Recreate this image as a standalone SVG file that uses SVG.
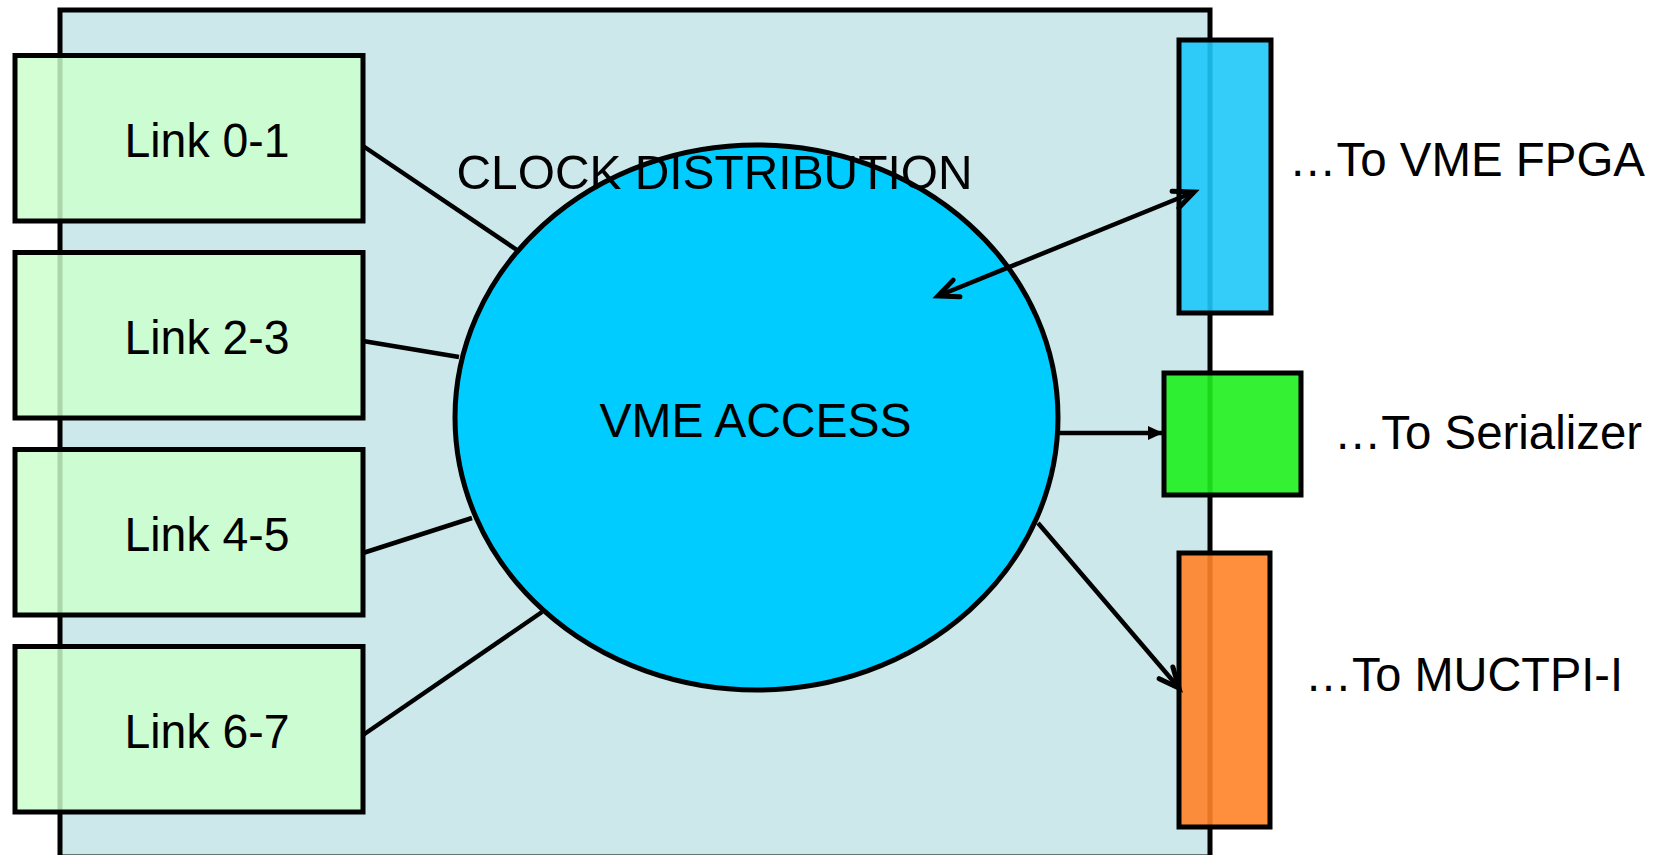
<svg xmlns="http://www.w3.org/2000/svg" width="1661" height="855" viewBox="0 0 1661 855">
  <defs>
    <marker id="openArrow" markerUnits="userSpaceOnUse" markerWidth="40" markerHeight="40" viewBox="-30 -20 40 40" refX="0" refY="0" orient="auto-start-reverse">
      <path d="M -20 -9 L 0 0 L -20 9" fill="none" stroke="#000" stroke-width="5" stroke-linecap="round" stroke-linejoin="miter"/>
    </marker>
    <marker id="solidArrow" markerUnits="userSpaceOnUse" markerWidth="30" markerHeight="30" viewBox="-20 -15 30 30" refX="0" refY="0" orient="auto">
      <path d="M -14 -7 L 1 0 L -14 7 Z" fill="#000"/>
    </marker>
  </defs>
  <style>
    .txt { font-family: "Liberation Sans", Arial, sans-serif; fill: #000; }
    .link rect { fill: #ccffcc; fill-opacity: 0.84; stroke: #000; stroke-width: 5; }
    .conn { stroke: #000; stroke-width: 4.5; fill: none; }
    .port { stroke: #000; stroke-width: 5; fill-opacity: 0.9; }
  </style>

  <rect width="1661" height="855" fill="#ffffff"/>

  <g id="board">
    <rect x="60" y="10" width="1150" height="847" fill="#cce8ea" stroke="#000" stroke-width="5"/>
  </g>

  <g id="connectors">
    <line class="conn" x1="363" y1="146" x2="517" y2="250"/>
    <line class="conn" x1="363" y1="341" x2="459" y2="357"/>
    <line class="conn" x1="363" y1="553" x2="472" y2="518"/>
    <line class="conn" x1="363" y1="735" x2="542" y2="612"/>
  </g>

  <g id="vme_access">
    <ellipse cx="756.5" cy="417.5" rx="301.5" ry="272.5" fill="#00ccff" stroke="#000" stroke-width="5"/>
    <text class="txt" x="755.5" y="437" font-size="48" text-anchor="middle" textLength="312" lengthAdjust="spacingAndGlyphs">VME ACCESS</text>
  </g>

  <g id="clock_distribution">
    <text class="txt" x="714.5" y="189" font-size="49" text-anchor="middle" textLength="516" lengthAdjust="spacingAndGlyphs">CLOCK DISTRIBUTION</text>
  </g>

  <g id="link01" class="link">
    <rect x="15" y="55.5" width="348" height="165.5"/>
    <text class="txt" x="207" y="157" font-size="49" text-anchor="middle" textLength="165" lengthAdjust="spacingAndGlyphs">Link 0-1</text>
  </g>
  <g id="link23" class="link">
    <rect x="15" y="252.5" width="348" height="165.5"/>
    <text class="txt" x="207" y="354" font-size="49" text-anchor="middle" textLength="165" lengthAdjust="spacingAndGlyphs">Link 2-3</text>
  </g>
  <g id="link45" class="link">
    <rect x="15" y="449.5" width="348" height="165.5"/>
    <text class="txt" x="207" y="551" font-size="49" text-anchor="middle" textLength="165" lengthAdjust="spacingAndGlyphs">Link 4-5</text>
  </g>
  <g id="link67" class="link">
    <rect x="15" y="646.5" width="348" height="165.5"/>
    <text class="txt" x="207" y="748" font-size="49" text-anchor="middle" textLength="165" lengthAdjust="spacingAndGlyphs">Link 6-7</text>
  </g>

  <g id="vme_fpga">
    <rect class="port" x="1179" y="40" width="92" height="273" fill="#1ec8fa"/>
    <text class="txt" x="1467" y="176" font-size="48" text-anchor="middle" textLength="356" lengthAdjust="spacingAndGlyphs">…To VME FPGA</text>
  </g>
  <g id="serializer">
    <rect class="port" x="1164" y="373" width="137" height="122" fill="#1ef01e"/>
    <text class="txt" x="1488" y="449" font-size="48" text-anchor="middle" textLength="308" lengthAdjust="spacingAndGlyphs">…To Serializer</text>
  </g>
  <g id="muctpi">
    <rect class="port" x="1179" y="553" width="91" height="274" fill="#ff8228"/>
    <text class="txt" x="1464" y="691" font-size="48" text-anchor="middle" textLength="318" lengthAdjust="spacingAndGlyphs">…To MUCTPI-I</text>
  </g>

  <g id="arrows">
    <line class="conn" x1="938" y1="296" x2="1194" y2="192" marker-start="url(#openArrow)" marker-end="url(#openArrow)"/>
    <line class="conn" x1="1059" y1="433" x2="1162" y2="433" marker-end="url(#solidArrow)"/>
    <line class="conn" x1="1038" y1="523" x2="1179" y2="688" marker-end="url(#openArrow)"/>
  </g>
</svg>
